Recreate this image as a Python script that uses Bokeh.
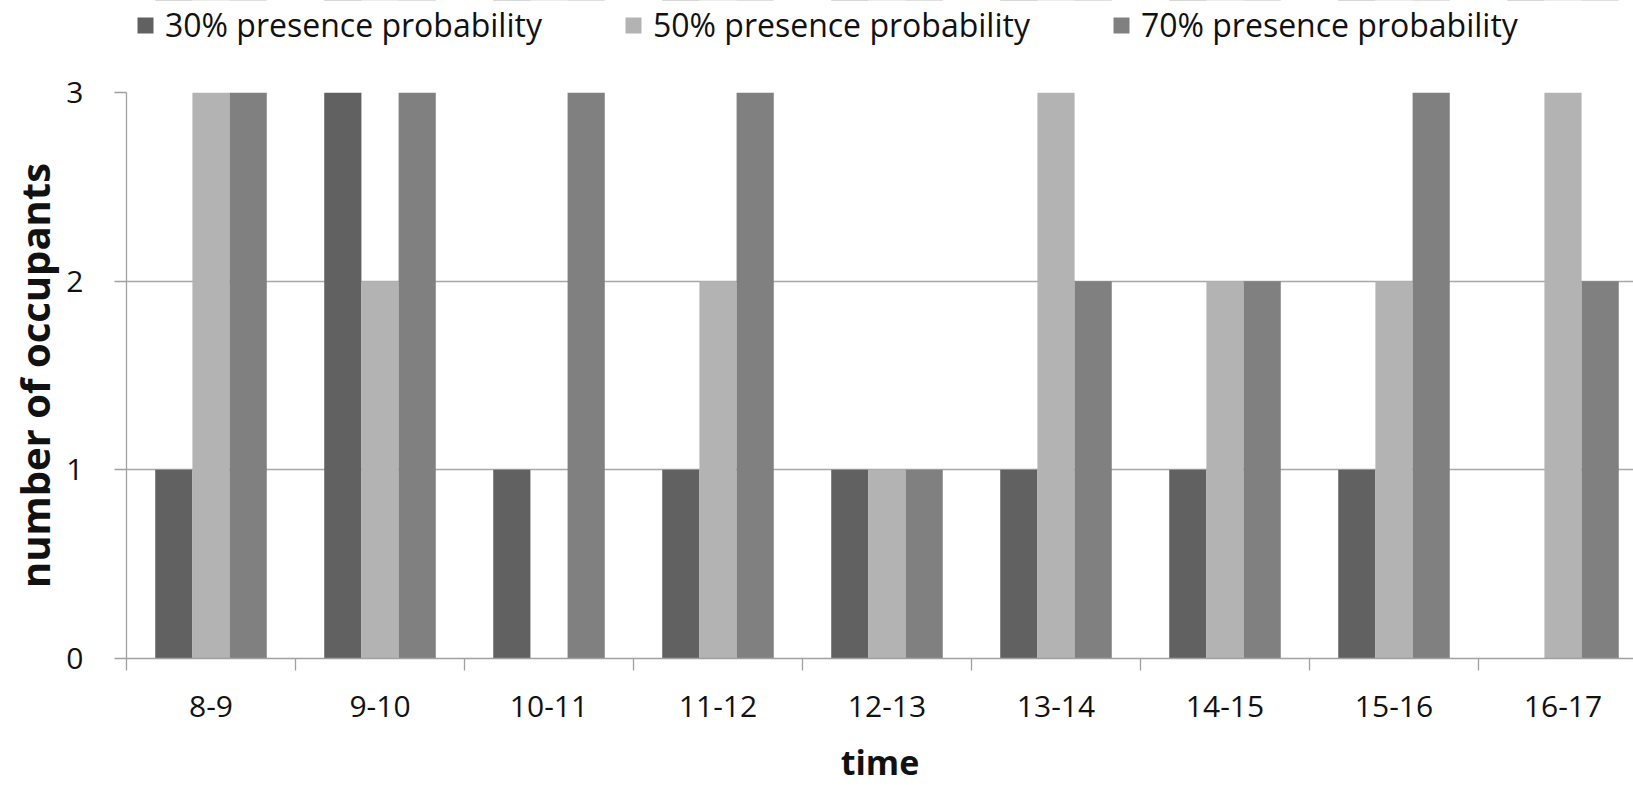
from bokeh.plotting import figure
from bokeh.layouts import column
from bokeh.models import Range1d, FixedTicker, Legend, LegendItem, ColumnDataSource
from bokeh.embed import file_html
from bokeh.resources import INLINE

categories = ["8-9", "9-10", "10-11", "11-12", "12-13", "13-14", "14-15", "15-16", "16-17"]
series_names = ["30% presence probability", "50% presence probability", "70% presence probability"]
occ_30 = [1, 3, 1, 1, 1, 1, 1, 1, 0]
occ_50 = [3, 2, 0, 2, 1, 3, 2, 2, 3]
occ_70 = [3, 3, 3, 3, 1, 2, 2, 3, 2]
y_ticks = [0, 1, 2, 3]

colors = ["#616161", "#b3b3b3", "#808080"]
FONT = "Open Sans"

W, H = 1633, 787
legend_h = 60
left, top, bottom = 126, 32, 127
cat_px = 169.0
frame_w = W - left
main_h = H - legend_h

bar_w = 0.22
offsets = [-bar_w, 0.0, bar_w]
sources = [ColumnDataSource(dict(x=[i + 0.5 + off for i in range(len(categories))], top=vals))
           for vals, off in zip([occ_30, occ_50, occ_70], offsets)]

# ---------- main chart ----------
p = figure(width=W, height=main_h, output_backend="svg", toolbar_location=None,
           x_range=Range1d(0, frame_w / cat_px), y_range=Range1d(0, y_ticks[-1]),
           min_border_left=left, min_border_right=0, min_border_top=top,
           min_border_bottom=bottom)
p.outline_line_color = None
p.background_fill_color = "white"
p.border_fill_color = "white"

for src, col in zip(sources, colors):
    p.vbar(x="x", top="top", bottom=0, width=bar_w, source=src,
           fill_color=col, line_color=None)

p.xgrid.visible = False
p.ygrid.ticker = FixedTicker(ticks=y_ticks)
p.ygrid.grid_line_color = "#a8a8a8"
p.ygrid.grid_line_width = 1.3

axis_color = "#a0a0a0"
xa = p.xaxis[0]
xa.ticker = FixedTicker(ticks=[i + 0.5 for i in range(len(categories))],
                        minor_ticks=list(range(len(categories) + 1)))
xa.major_label_overrides = {i + 0.5: c for i, c in enumerate(categories)}
xa.major_tick_out = 0
xa.major_tick_in = 0
xa.minor_tick_out = 12
xa.minor_tick_in = 0
xa.minor_tick_line_color = axis_color
xa.minor_tick_line_width = 1.3
xa.axis_line_color = axis_color
xa.axis_line_width = 1.3
xa.major_label_text_font = FONT
xa.major_label_text_font_size = "30px"
xa.major_label_text_color = "#111111"
xa.major_label_text_line_height = 1.0
xa.major_label_standoff = 25
xa.axis_label = "time"
xa.axis_label_text_font = FONT
xa.axis_label_text_font_style = "bold"
xa.axis_label_text_font_size = "34px"
xa.axis_label_text_color = "#111111"
xa.axis_label_text_line_height = 1.0
xa.axis_label_standoff = 19

ya = p.yaxis[0]
ya.ticker = FixedTicker(ticks=y_ticks)
ya.major_tick_out = 12
ya.major_tick_in = 0
ya.minor_tick_out = 0
ya.minor_tick_in = 0
ya.major_tick_line_color = axis_color
ya.major_tick_line_width = 1.3
ya.axis_line_color = axis_color
ya.axis_line_width = 1.3
ya.major_label_text_font = FONT
ya.major_label_text_font_size = "30px"
ya.major_label_text_color = "#111111"
ya.major_label_standoff = 31
ya.axis_label = "number of occupants"
ya.axis_label_text_font = FONT
ya.axis_label_text_font_style = "bold"
ya.axis_label_text_font_size = "40px"
ya.axis_label_text_color = "#111111"
ya.axis_label_standoff = 1

# ---------- legend strip (same series, bars kept far out of its view) ----------
lg = figure(width=W, height=legend_h, output_backend="svg", toolbar_location=None,
            x_range=p.x_range, y_range=Range1d(-1000, -999), min_border=0)
lg.axis.visible = False
lg.grid.visible = False
lg.outline_line_color = None
lg.border_fill_color = "white"
lg.background_fill_color = "white"
proxies = [lg.vbar(x="x", top="top", bottom=0, width=bar_w, source=src,
                   fill_color=c, line_color=None) for src, c in zip(sources, colors)]
legend = Legend(items=[LegendItem(label=n, renderers=[r]) for n, r in zip(series_names, proxies)],
                orientation="horizontal", location=(9, 14),
                glyph_width=20, glyph_height=20, label_standoff=10, spacing=81,
                padding=0, margin=0, border_line_color=None, background_fill_alpha=0,
                label_text_font=FONT, label_text_font_size="32px", label_text_color="#111111")
lg.add_layout(legend, "center")

layout = column(lg, p, spacing=0)
open("out.html", "w").write(file_html(layout, INLINE))
